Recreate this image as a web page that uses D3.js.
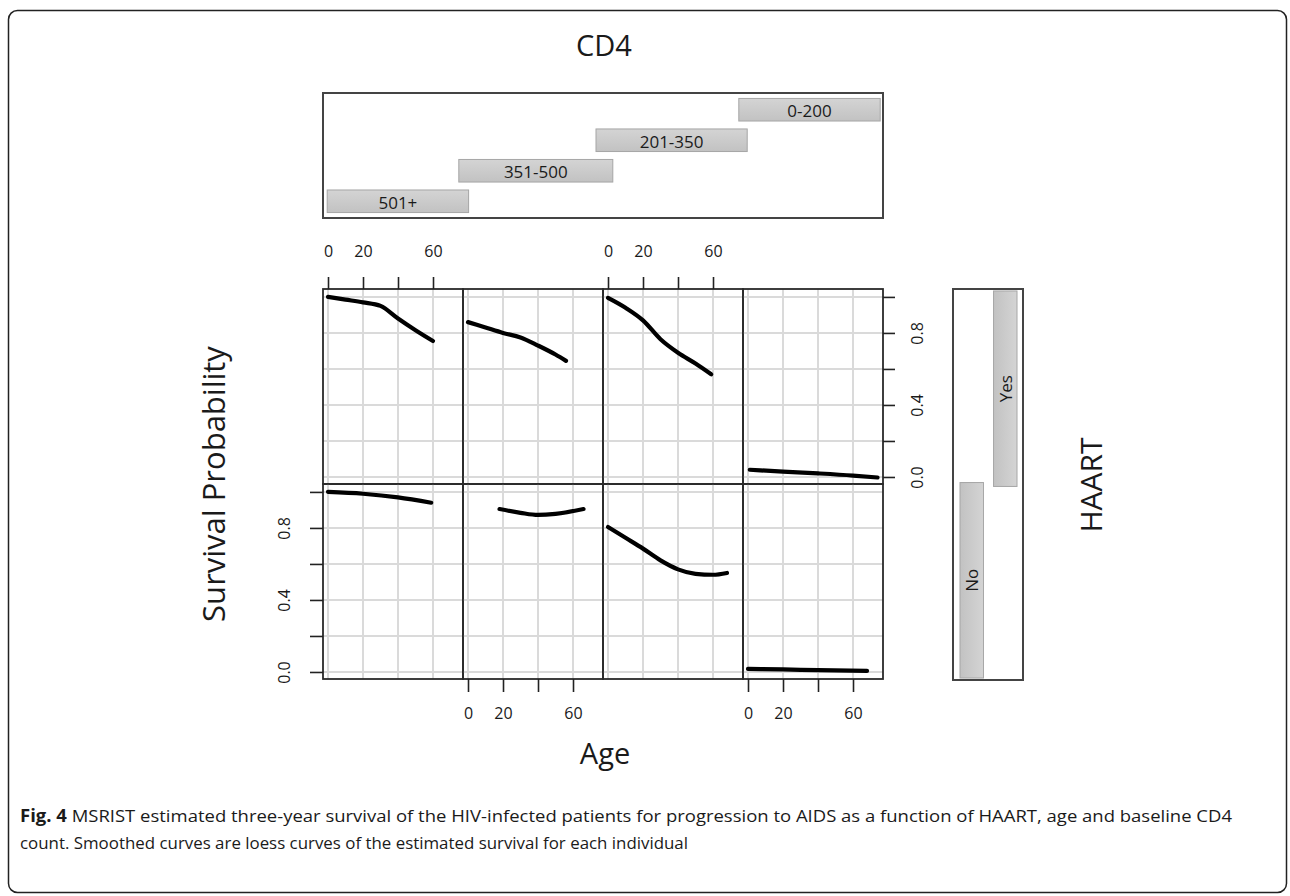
<!DOCTYPE html>
<html>
<head>
<meta charset="utf-8">
<script src="https://cdn.jsdelivr.net/npm/d3@7"></script>
<style>
  body { margin: 0; background: #fff; }
  text { font-family: "Open Sans", "DejaVu Sans", sans-serif; fill: #1a1a1a; }
</style>
</head>
<body>
<div id="chart"></div>
<script>
// ---- data ----
var cd4Levels = ["501+", "351-500", "201-350", "0-200"];
var haartLevels = ["Yes", "No"];          // top row, bottom row
// shingle-like strip intervals (in level units)
var cd4Lo = [0.03, 0.97, 1.95, 2.97];
var cd4Hi = [1.04, 2.07, 3.03, 3.98];
var haartLo = [0.99, 0.01];
var haartHi = [1.99, 1.01];

var ageTicks = [0, 20, 40, 60];
var survTicks = [0, 0.2, 0.4, 0.6, 0.8, 1.0];

// HAART = Yes
var yes501Age  = [0, 10, 20, 30, 40, 50, 60];
var yes501Surv = [1.0, 0.985, 0.97, 0.95, 0.88, 0.815, 0.755];
var yes351Age  = [0, 10, 20, 30, 40, 50, 56];
var yes351Surv = [0.86, 0.83, 0.80, 0.775, 0.73, 0.68, 0.645];
var yes201Age  = [0, 10, 20, 30, 40, 50, 59];
var yes201Surv = [0.995, 0.94, 0.87, 0.765, 0.69, 0.63, 0.57];
var yes0Age    = [1, 20, 40, 60, 74];
var yes0Surv   = [0.04, 0.03, 0.02, 0.008, -0.003];
// HAART = No
var no501Age   = [0, 20, 40, 59];
var no501Surv  = [1.0, 0.99, 0.97, 0.94];
var no351Age   = [18, 30, 40, 50, 66];
var no351Surv  = [0.905, 0.884, 0.872, 0.878, 0.905];
var no201Age   = [0, 10, 20, 30, 40, 50, 60, 68];
var no201Surv  = [0.805, 0.745, 0.685, 0.62, 0.57, 0.545, 0.54, 0.55];
var no0Age     = [0, 20, 40, 68];
var no0Surv    = [0.017, 0.014, 0.01, 0.006];

var curves = [
  [yes501Age, yes501Surv], [yes351Age, yes351Surv], [yes201Age, yes201Surv], [yes0Age, yes0Surv],
  [no501Age, no501Surv],   [no351Age, no351Surv],   [no201Age, no201Surv],   [no0Age, no0Surv]
];

// ---- layout ----
var W = 1290, H = 896;
var panelLeft = 323, panelTop = 289, panelW = 140, panelH = 195;

var svg = d3.select("#chart").append("svg")
    .attr("width", W)
    .attr("height", H);

svg.append("rect").attr("width", W).attr("height", H).attr("fill", "#fff");

// outer frame
svg.append("rect")
    .attr("x", 8.5).attr("y", 10.5)
    .attr("width", 1278).attr("height", 882)
    .attr("rx", 9)
    .attr("fill", "none").attr("stroke", "#222").attr("stroke-width", 1.5);

var x = d3.scaleLinear().domain([-2.86, 77.14]).range([0, panelW]);
var y = d3.scaleLinear().domain([-0.039, 1.044]).range([panelH, 0]);

var line = d3.line()
    .x(function(d) { return x(d[0]); })
    .y(function(d) { return y(d[1]); })
    .curve(d3.curveMonotoneX);

// panels
for (var r = 0; r < 2; r++) {
  for (var c = 0; c < 4; c++) {
    var g = svg.append("g")
        .attr("transform", "translate(" + (panelLeft + c * panelW) + "," + (panelTop + r * panelH) + ")");

    g.selectAll("line.vg").data(ageTicks).enter().append("line")
        .attr("x1", function(d) { return x(d); }).attr("x2", function(d) { return x(d); })
        .attr("y1", 0).attr("y2", panelH)
        .attr("stroke", "#dadada").attr("stroke-width", 2);
    g.selectAll("line.hg").data(survTicks).enter().append("line")
        .attr("y1", function(d) { return y(d); }).attr("y2", function(d) { return y(d); })
        .attr("x1", 0).attr("x2", panelW)
        .attr("stroke", "#dadada").attr("stroke-width", 2);

    var cv = curves[r * 4 + c];
    var pts = cv[0].map(function(a, i) { return [a, cv[1][i]]; });
    g.append("path")
        .attr("d", line(pts))
        .attr("fill", "none").attr("stroke", "#000")
        .attr("stroke-width", 4.2).attr("stroke-linecap", "round").attr("stroke-linejoin", "round");

    g.append("rect")
        .attr("width", panelW).attr("height", panelH)
        .attr("fill", "none").attr("stroke", "#2a2a2a").attr("stroke-width", 1.8);

    // axes, alternating like lattice
    var ageFmt = function(d) { return d === 40 ? "" : d; };
    var survFmt = function(d) { return (Math.abs(d - 0) < 1e-9 || Math.abs(d - 0.4) < 1e-9 || Math.abs(d - 0.8) < 1e-9) ? d.toFixed(1) : ""; };
    if (r === 0 && (c === 0 || c === 2)) {
      var ax = g.append("g").call(d3.axisTop(x).tickValues(ageTicks).tickSize(12).tickPadding(20).tickFormat(ageFmt));
      styleAxis(ax);
    }
    if (r === 1 && (c === 1 || c === 3)) {
      var ax2 = g.append("g").attr("transform", "translate(0," + panelH + ")")
          .call(d3.axisBottom(x).tickValues(ageTicks).tickSize(13).tickPadding(16).tickFormat(ageFmt));
      styleAxis(ax2);
    }
    if (r === 1 && c === 0) {
      var ay = g.append("g").call(d3.axisLeft(y).tickValues(survTicks).tickSize(13).tickFormat(survFmt));
      styleAxis(ay);
      ay.selectAll("text").attr("x", null).attr("dy", null)
          .attr("text-anchor", "middle").attr("dominant-baseline", "central")
          .attr("transform", "translate(-39,0) rotate(-90)");
    }
    if (r === 0 && c === 3) {
      var ay2 = g.append("g").attr("transform", "translate(" + panelW + ",0)")
          .call(d3.axisRight(y).tickValues(survTicks).tickSize(12).tickFormat(survFmt));
      styleAxis(ay2);
      ay2.selectAll("text").attr("x", null).attr("dy", null)
          .attr("text-anchor", "middle").attr("dominant-baseline", "central")
          .attr("transform", "translate(34,0) rotate(-90)");
    }
  }
}

function styleAxis(a) {
  a.select(".domain").remove();
  a.selectAll(".tick line").attr("stroke", "#222").attr("stroke-width", 1.6);
  a.selectAll("text").attr("font-size", 16).attr("fill", "#1a1a1a")
      .style("font-family", '"Open Sans", sans-serif');
}

// ---- top strip (CD4) ----
var stripX = d3.scaleLinear().domain([0, 4]).range([panelLeft, panelLeft + 4 * panelW]);
var stripY = d3.scaleBand().domain(cd4Levels.slice().reverse()).range([96, 215]).paddingInner(0.26).paddingOuter(0.08);

svg.append("rect")
    .attr("x", 323).attr("y", 93).attr("width", 560).attr("height", 125)
    .attr("fill", "#fff").attr("stroke", "#444").attr("stroke-width", 2);

var grad = svg.append("defs").append("linearGradient").attr("id", "barg")
    .attr("x1", 0).attr("y1", 0).attr("x2", 0).attr("y2", 1);
grad.append("stop").attr("offset", "0%").attr("stop-color", "#d4d4d4");
grad.append("stop").attr("offset", "100%").attr("stop-color", "#c2c2c2");

var gradH = svg.select("defs").append("linearGradient").attr("id", "bargh")
    .attr("x1", 0).attr("y1", 0).attr("x2", 1).attr("y2", 0);
gradH.append("stop").attr("offset", "0%").attr("stop-color", "#c2c2c2");
gradH.append("stop").attr("offset", "100%").attr("stop-color", "#d4d4d4");

cd4Levels.forEach(function(lv, i) {
  var bx = stripX(cd4Lo[i]), bw = stripX(cd4Hi[i]) - bx;
  svg.append("rect")
      .attr("x", bx).attr("y", stripY(lv)).attr("width", bw).attr("height", stripY.bandwidth())
      .attr("fill", "url(#barg)").attr("stroke", "#a6a6a6").attr("stroke-width", 1);
  svg.append("text")
      .attr("x", bx + bw / 2).attr("y", stripY(lv) + stripY.bandwidth() / 2 + 1)
      .attr("text-anchor", "middle").attr("dominant-baseline", "central")
      .attr("font-size", 17).text(lv);
});

// ---- right strip (HAART) ----
var hY = d3.scaleLinear().domain([0, 2]).range([680, 289]);
var hX = d3.scaleBand().domain(["No", "Yes"]).range([960, 1017]).paddingInner(0.3);

svg.append("rect")
    .attr("x", 953).attr("y", 289).attr("width", 70).attr("height", 391)
    .attr("fill", "#fff").attr("stroke", "#444").attr("stroke-width", 2);

haartLevels.forEach(function(lv, i) {
  var by = hY(haartHi[i]), bh = hY(haartLo[i]) - by;
  svg.append("rect")
      .attr("x", hX(lv)).attr("y", by).attr("width", hX.bandwidth()).attr("height", bh)
      .attr("fill", "url(#bargh)").attr("stroke", "#a6a6a6").attr("stroke-width", 1);
  svg.append("text")
      .attr("transform", "translate(" + (hX(lv) + hX.bandwidth() / 2) + "," + (by + bh / 2) + ") rotate(-90)")
      .attr("text-anchor", "middle").attr("dominant-baseline", "central")
      .attr("font-size", 17).text(lv);
});

// ---- titles ----
svg.append("text").attr("x", 604).attr("y", 44).attr("text-anchor", "middle")
    .attr("dominant-baseline", "central").attr("font-size", 29).text("CD4");
svg.append("text").attr("x", 605).attr("y", 752).attr("text-anchor", "middle")
    .attr("dominant-baseline", "central").attr("font-size", 29).text("Age");
svg.append("text").attr("transform", "translate(213,484) rotate(-90)").attr("text-anchor", "middle")
    .attr("dominant-baseline", "central").attr("font-size", 31).text("Survival Probability");
svg.append("text").attr("transform", "translate(1090,485) rotate(-90)").attr("text-anchor", "middle")
    .attr("dominant-baseline", "central").attr("font-size", 30).text("HAART");

// ---- caption ----
var cap1 = svg.append("text").attr("x", 20).attr("y", 822).attr("font-size", 17)
    .attr("textLength", 1212).attr("lengthAdjust", "spacingAndGlyphs");
cap1.append("tspan").attr("font-weight", "bold").text("Fig. 4");
cap1.append("tspan").text(" MSRIST estimated three-year survival of the HIV-infected patients for progression to AIDS as a function of HAART, age and baseline CD4");
svg.append("text").attr("x", 20).attr("y", 849).attr("font-size", 17)
    .attr("textLength", 668).attr("lengthAdjust", "spacingAndGlyphs")
    .text("count. Smoothed curves are loess curves of the estimated survival for each individual");
</script>
</body>
</html>
